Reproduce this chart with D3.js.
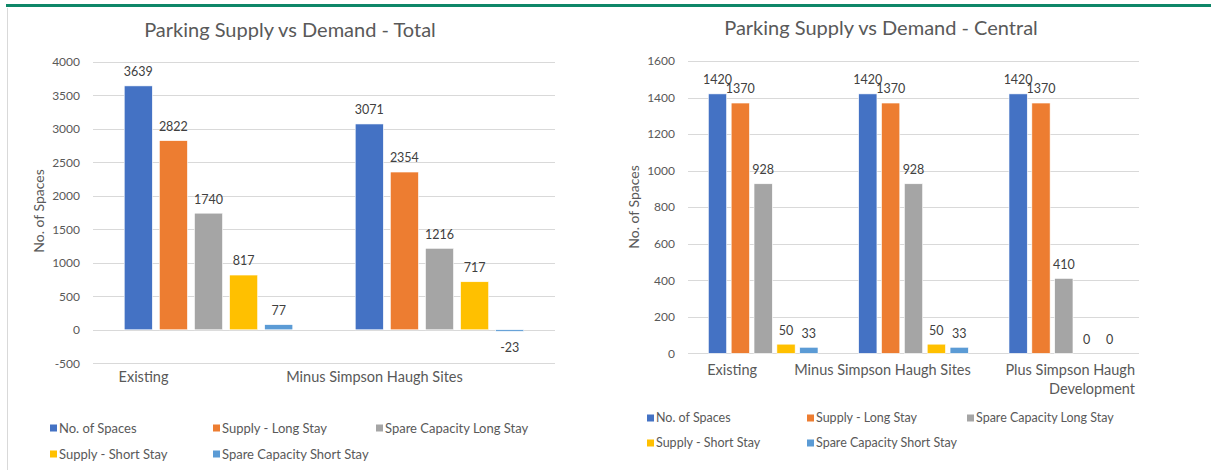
<!DOCTYPE html>
<html>
<head>
<meta charset="utf-8">
<script src="https://cdn.jsdelivr.net/npm/d3@7"></script>
<style>
  html, body { margin: 0; padding: 0; background: #fff; }
  svg { display: block; font-family: Lato, "Open Sans", sans-serif; }
</style>
</head>
<body>
<svg id="chart" width="1211" height="470"></svg>
<script>
// ---------- data ----------
const seriesNames = ["No. of Spaces", "Supply - Long Stay", "Spare Capacity Long Stay", "Supply - Short Stay", "Spare Capacity Short Stay"];
const seriesColors = ["#4472C4", "#ED7D31", "#A5A5A5", "#FFC000", "#5B9BD5"];

const totalCategories = ["Existing", "Minus Simpson Haugh Sites"];
const totalSpaces = [3639, 3071];
const totalSupplyLong = [2822, 2354];
const totalSpareLong = [1740, 1216];
const totalSupplyShort = [817, 717];
const totalSpareShort = [77, -23];
const totalTicks = [-500, 0, 500, 1000, 1500, 2000, 2500, 3000, 3500, 4000];

const centralCategories = ["Existing", "Minus Simpson Haugh Sites", "Plus Simpson Haugh Development"];
const centralCategoryLines = [["Existing"], ["Minus Simpson Haugh Sites"], ["Plus Simpson Haugh", "Development"]];
const centralSpaces = [1420, 1420, 1420];
const centralSupplyLong = [1370, 1370, 1370];
const centralSpareLong = [928, 928, 410];
const centralSupplyShort = [50, 50, 0];
const centralSpareShort = [33, 33, 0];
const centralTicks = [0, 200, 400, 600, 800, 1000, 1200, 1400, 1600];

const svg = d3.select("#chart");

// frame decorations
svg.append("rect").attr("x", 6).attr("y", 4).attr("width", 1205).attr("height", 3).attr("fill", "#0E8768");
svg.append("line").attr("x1", 7.5).attr("x2", 7.5).attr("y1", 8).attr("y2", 470).attr("stroke", "#D9D9D9").attr("stroke-width", 1);

function drawChart(cfg) {
  const g = svg.append("g");
  const y = d3.scaleLinear().domain(cfg.domain).range(cfg.yRange);
  const x0 = d3.scaleBand().domain(cfg.categories).range(cfg.xRange).padding(0);
  const bw = x0.bandwidth();
  const x1 = d3.scaleBand().domain(seriesNames).range([bw * 0.12, bw * 0.88]).paddingInner(0.2).paddingOuter(0.1);

  // title
  g.append("text").attr("x", cfg.titleX).attr("y", cfg.titleY).attr("text-anchor", "middle")
    .attr("font-size", 20).attr("fill", "#595959").text(cfg.title);

  // gridlines
  g.append("g").selectAll("line").data(cfg.ticks).join("line")
    .attr("x1", cfg.xRange[0]).attr("x2", cfg.xRange[1])
    .attr("y1", d => Math.round(y(d)) + 0.5).attr("y2", d => Math.round(y(d)) + 0.5)
    .attr("stroke", "#D9D9D9").attr("stroke-width", 1);

  // y axis labels
  const yAxis = d3.axisLeft(y).tickValues(cfg.ticks).tickSize(0).tickPadding(0).tickFormat(d => String(d));
  const ya = g.append("g").attr("transform", `translate(${cfg.xRange[0] - 13},0)`).call(yAxis);
  ya.select(".domain").remove();
  ya.selectAll("text").attr("font-size", 12).attr("fill", "#595959").attr("font-family", "Lato, sans-serif");

  // y title
  g.append("text").attr("transform", `translate(${cfg.yTitleX},${cfg.yTitleY}) rotate(-90)`)
    .attr("text-anchor", "middle").attr("dy", "0.35em").attr("font-size", 14).attr("fill", "#595959").text("No. of Spaces");

  // bars
  const rows = [];
  cfg.categories.forEach((c, i) => {
    cfg.series.forEach((arr, s) => rows.push({ cat: c, s: s, name: seriesNames[s], v: arr[i] }));
  });
  const bars = g.append("g");
  bars.selectAll("rect").data(rows).join("rect")
    .attr("x", d => x0(d.cat) + x1(d.name))
    .attr("y", d => y(Math.max(0, d.v)))
    .attr("width", x1.bandwidth())
    .attr("height", d => Math.abs(y(d.v) - y(0)))
    .attr("fill", d => seriesColors[d.s])
    .attr("stroke", "#fff").attr("stroke-width", 0.6);

  // data labels
  g.append("g").selectAll("text").data(rows).join("text")
    .attr("x", d => x0(d.cat) + x1(d.name) + x1.bandwidth() / 2)
    .attr("y", d => d.v >= 0 ? y(d.v) - 14 : y(d.v) + 16)
    .attr("dy", "0.35em").attr("text-anchor", "middle")
    .attr("font-size", 12.5).attr("fill", "#404040").text(d => String(d.v));

  // category labels
  const cl = g.append("g");
  cfg.categories.forEach((c, i) => {
    const lines = cfg.catLines[i];
    const t = cl.append("text").attr("font-size", 14.5).attr("fill", "#595959");
    if (lines.length > 1) {
      t.attr("text-anchor", "end");
      lines.forEach((ln, k) => t.append("tspan").attr("x", x0(c) + bw - 4).attr("y", cfg.catY + k * 19).attr("dy", "0.35em").text(ln));
    } else {
      t.attr("text-anchor", "middle").attr("x", x0(c) + bw / 2 + cfg.catOffset).attr("y", cfg.catY).attr("dy", "0.35em").text(lines[0]);
    }
  });

  // legend
  const lg = g.append("g");
  seriesNames.forEach((n, i) => {
    const col = i % 3, row = Math.floor(i / 3);
    const lx = cfg.legendX + col * cfg.legendDX, ly = cfg.legendY + row * cfg.legendDY;
    lg.append("rect").attr("x", lx).attr("y", ly - 3.5).attr("width", 7).attr("height", 7).attr("fill", seriesColors[i]);
    lg.append("text").attr("x", lx + 9).attr("y", ly).attr("dy", "0.35em").attr("font-size", cfg.legendFont).attr("fill", "#595959").text(n);
  });
}

drawChart({
  title: "Parking Supply vs Demand - Total", titleX: 290, titleY: 37,
  categories: totalCategories,
  catLines: totalCategories.map(c => [c]),
  series: [totalSpaces, totalSupplyLong, totalSpareLong, totalSupplyShort, totalSpareShort],
  domain: [-500, 4000], yRange: [363.3, 61.7], xRange: [93, 555], ticks: totalTicks,
  yTitleX: 39, yTitleY: 211, catY: 377, catOffset: -65,
  legendX: 50, legendY: 428, legendDX: 163, legendDY: 26, legendFont: 13
});

drawChart({
  title: "Parking Supply vs Demand - Central", titleX: 881, titleY: 35,
  categories: centralCategories,
  catLines: centralCategoryLines,
  series: [centralSpaces, centralSupplyLong, centralSpareLong, centralSupplyShort, centralSpareShort],
  domain: [0, 1600], yRange: [353.3, 61], xRange: [688, 1139], ticks: centralTicks,
  yTitleX: 634, yTitleY: 207, catY: 370, catOffset: -31,
  legendX: 647, legendY: 418, legendDX: 160, legendDY: 25, legendFont: 12.5
});
</script>
</body>
</html>
